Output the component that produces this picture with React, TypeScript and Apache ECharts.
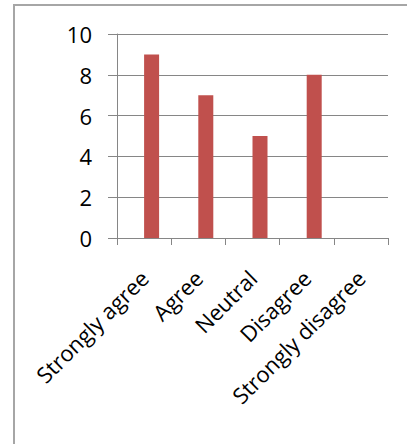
import React, { useEffect, useRef } from "react";
import * as echarts from "echarts";

const categories = ["Strongly agree", "Agree", "Neutral", "Disagree", "Strongly disagree"];
const values: (number | null)[] = [9, 7, 5, 8, null];
const yTicks = { min: 0, max: 10, interval: 2 };

export default function App() {
  const ref = useRef<HTMLDivElement>(null);
  useEffect(() => {
    if (!ref.current) return;
    const chart = echarts.init(ref.current, null, { renderer: "svg" });
    const font = "'Open Sans', 'Liberation Sans', sans-serif";
    chart.setOption({
      animation: false,
      backgroundColor: "#ffffff",
      graphic: [
        {
          type: "rect",
          shape: { x: 14, y: 5, width: 420, height: 460 },
          style: { fill: "none", stroke: "#a6a6a6", lineWidth: 2 },
          silent: true,
        },
      ],
      grid: { left: 117, right: 19, top: 34, bottom: 206, containLabel: false },
      xAxis: {
        type: "category",
        data: categories,
        boundaryGap: true,
        axisLine: { show: true, lineStyle: { color: "#868686", width: 1 } },
        axisTick: { show: true, alignWithLabel: false, length: 7, lineStyle: { color: "#868686" } },
        axisLabel: {
          interval: 0,
          rotate: 45,
          margin: 36,
          color: "#000",
          fontFamily: font,
          fontSize: 22,
        },
        splitLine: { show: false },
      },
      yAxis: {
        type: "value",
        min: yTicks.min,
        max: yTicks.max,
        interval: yTicks.interval,
        axisLine: { show: true, lineStyle: { color: "#868686", width: 1 } },
        axisTick: { show: true, length: 9, lineStyle: { color: "#868686" } },
        axisLabel: { color: "#000", fontFamily: font, fontSize: 22, margin: 25 },
        splitLine: { show: true, lineStyle: { color: "#868686", width: 1 } },
      },
      series: [
        {
          type: "bar",
          data: categories.map(() => null),
          barWidth: 15,
          barGap: "0%",
          silent: true,
        },
        {
          type: "bar",
          data: values,
          barWidth: 15,
          barGap: "0%",
          itemStyle: { color: "#c0504d" },
          silent: true,
        },
      ],
    });
    return () => chart.dispose();
  }, []);
  return <div ref={ref} style={{ position: "fixed", left: 0, top: 0, width: 407, height: 444 }} />;
}
